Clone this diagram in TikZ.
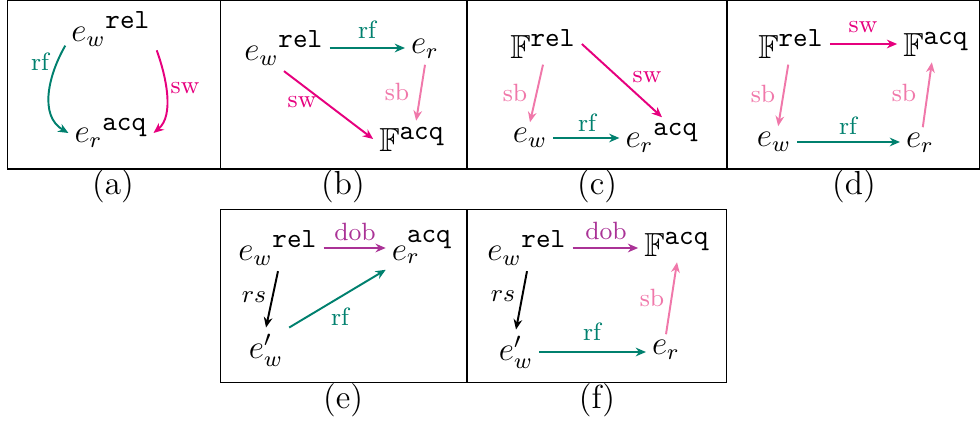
\documentclass[tikz,border=0pt]{standalone}
\usepackage{amsmath}
\usepackage{amssymb}
\usepackage{xcolor}
\usepackage{tikz}
\usetikzlibrary{arrows.meta}

\definecolor{rfcol}{RGB}{0,128,110}
\definecolor{swcol}{RGB}{230,0,126}
\definecolor{sbcol}{RGB}{240,120,170}
\definecolor{dobcol}{RGB}{170,50,150}
\newcommand{\memord}[1]{\hbox{\normalsize\ttfamily #1}}

\begin{document}
\begin{tikzpicture}[x=0.36pt,y=-0.36pt,>={Stealth[length=1.3mm,width=1.1mm]},
    ev/.style={inner sep=2pt,font=\large},
    lbl/.style={inner sep=0pt,font=\small},
    subcap/.style={inner sep=0pt,font=\large},
    rfarr/.style={->,rfcol,line width=0.7pt},
    swarr/.style={->,swcol,line width=0.7pt},
    sbarr/.style={->,sbcol,line width=0.7pt},
    dobarr/.style={->,dobcol,line width=0.7pt},
    rsarr/.style={->,black,line width=0.7pt},
    panel/.style={draw,line width=0.5pt}]
  \useasboundingbox (0,0) rectangle (980,423);
  % panel frames
  \draw[panel] (7.5,0.5) rectangle (220.3,169);
  \draw[panel] (220.3,0.5) rectangle (467,169);
  \draw[panel] (467,0.5) rectangle (727,169);
  \draw[panel] (727,0.5) rectangle (979.5,169);
  \draw[panel] (220.3,209.3) rectangle (467,382.5);
  \draw[panel] (467,209.3) rectangle (726.5,382.5);
  % captions
  \node[subcap] (capa) at (113,186) {(a)};
  \node[subcap] (capb) at (343,186) {(b)};
  \node[subcap] (capc) at (597,186) {(c)};
  \node[subcap] (capd) at (854,186) {(d)};
  \node[subcap] (cape) at (343,400) {(e)};
  \node[subcap] (capf) at (597,400) {(f)};

  % (a)
  \node[ev] (aw) at (111,29) {$e_w{}^{\memord{rel}}$};
  \node[ev] (ar) at (111,133) {$e_r{}^{\memord{acq}}$};
  \draw[rfarr] (aw.200) to[out=-120,in=150] (ar.west);
  \node[lbl,text=rfcol] (arf) at (40,62) {rf};
  \draw[swarr] (aw.-25) to[out=-70,in=40,looseness=0.85] (ar.east);
  \node[lbl,text=swcol] (asw) at (185,88) {sw};

  % (b)
  \node[ev] (bw) at (284,48) {$e_w{}^{\memord{rel}}$};
  \node[ev] (br) at (425,49) {$e_r$};
  \node[ev] (bf) at (412,139) {$\mathbb{F}^{\memord{acq}}$};
  \draw[rfarr] (bw.east) -- (bw.east -| br.west);
  \node[lbl,text=rfcol] (brf) at (367,30) {rf};
  \draw[sbarr] (br.south) -- ([xshift=1.5pt]bf.north);
  \node[lbl,text=sbcol] (bsb) at (397,92) {sb};
  \draw[swarr] (bw.south) -- (bf.west);
  \node[lbl,text=swcol] (bsw) at (302,102) {sw};

  % (c)
  \node[ev] (cf) at (543,44) {$\mathbb{F}^{\memord{rel}}$};
  \node[ev] (cw) at (530,138) {$e_w$};
  \node[ev] (cr) at (662,138) {$e_r{}^{\memord{acq}}$};
  \draw[sbarr] (cf.south) -- (cw.north);
  \node[lbl,text=sbcol] (csb) at (515,93) {sb};
  \draw[swarr] (cf.east) -- (cr.north);
  \node[lbl,text=swcol] (csw) at (647,77) {sw};
  \draw[rfarr] (cw.east) -- (cw.east -| cr.west);
  \node[lbl,text=rfcol] (crf) at (587,123) {rf};

  % (d)
  \node[ev] (dfr) at (791,44) {$\mathbb{F}^{\memord{rel}}$};
  \node[ev] (dfa) at (936,44) {$\mathbb{F}^{\memord{acq}}$};
  \node[ev] (dw) at (774,142) {$e_w$};
  \node[ev] (dr) at (920,143) {$e_r$};
  \draw[swarr] (dfr.east) -- (dfr.east -| dfa.west);
  \node[lbl,text=swcol] (dsw) at (863,27) {sw};
  \draw[sbarr] ([xshift=-1pt]dfr.south) -- ([xshift=1.5pt]dw.north);
  \node[lbl,text=sbcol] (dsbl) at (763,94) {sb};
  \draw[rfarr] (dw.east) -- (dw.east -| dr.west);
  \node[lbl,text=rfcol] (drf) at (848,126) {rf};
  \draw[sbarr] ([xshift=1pt]dr.north) -- ([xshift=-1.5pt]dfa.south);
  \node[lbl,text=sbcol] (dsbr) at (904,93) {sb};

  % (e)
  \node[ev] (ew) at (278,248) {$e_w{}^{\memord{rel}}$};
  \node[ev] (er) at (422,247) {$e_r^{\memord{acq}}$};
  \node[ev] (ewp) at (266,350) {$e'_w$};
  \draw[dobarr] (ew.east) -- (ew.east -| er.west);
  \node[lbl,text=dobcol] (edob) at (355,232) {dob};
  \draw[rsarr] (ew.south) -- (ewp.north);
  \node[lbl] (ers) at (254,297) {$rs$};
  \draw[rfarr] (ewp.north east) -- (er.south west);
  \node[lbl,text=rfcol] (erf) at (340,317) {rf};

  % (f)
  \node[ev] (fw) at (527,248) {$e_w{}^{\memord{rel}}$};
  \node[ev] (ff) at (677,244) {$\mathbb{F}^{\memord{acq}}$};
  \node[ev] (fwp) at (516,352) {$e'_w$};
  \node[ev] (fr) at (666,350) {$e_r$};
  \draw[dobarr] (fw.east) -- (fw.east -| ff.west);
  \node[lbl,text=dobcol] (fdob) at (606,231) {dob};
  \draw[rsarr] (fw.south) -- (fwp.north);
  \node[lbl] (frs) at (503,296) {$rs$};
  \draw[rfarr] (fwp.east) -- (fwp.east -| fr.west);
  \node[lbl,text=rfcol] (frf) at (592,332) {rf};
  \draw[sbarr] (fr.north) -- (ff.south);
  \node[lbl,text=sbcol] (fsb) at (652,298) {sb};
\end{tikzpicture}
\end{document}
